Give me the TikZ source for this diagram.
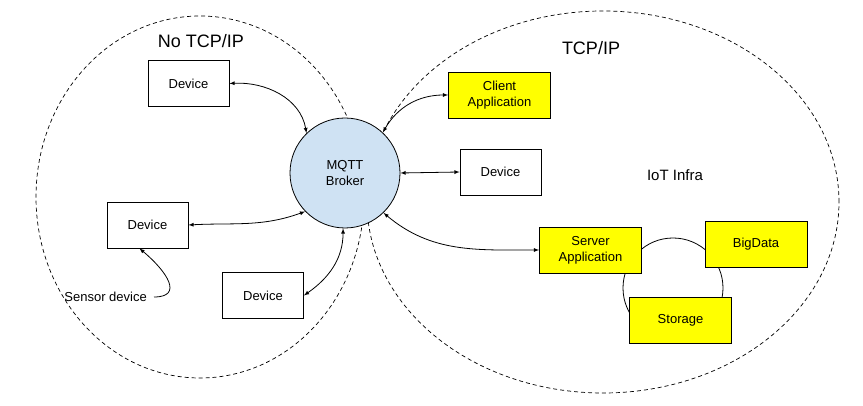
\documentclass[tikz,border=0pt]{standalone}
\usepackage{fontspec}
\setmainfont{Liberation Sans}
\usepackage{xcolor}
\usepackage{tikz}
\usetikzlibrary{shapes,arrows,positioning,calc}

\definecolor{brokerblue}{HTML}{CFE2F3}
\definecolor{appyellow}{HTML}{FFFF00}

\begin{document}
\begin{tikzpicture}[
    x=1pt, y=1pt,
    font=\fontsize{13}{16}\selectfont,
    zone/.style={ellipse, draw, dash pattern=on 4pt off 3pt, line width=0.7pt, inner sep=0pt},
    broker/.style={circle, draw, fill=brokerblue, line width=0.8pt, minimum size=110pt, inner sep=0pt, align=center},
    dev/.style={rectangle, draw, fill=white, line width=0.8pt, minimum width=81pt, minimum height=46pt, inner sep=0pt},
    app/.style={rectangle, draw, fill=appyellow, line width=0.8pt, minimum width=102pt, minimum height=46pt, inner sep=0pt, align=center},
    ring/.style={circle, draw, line width=0.8pt, minimum size=100pt, inner sep=0pt},
    flow/.style={<->, >=latex, line width=0.8pt},
    note/.style={->, >=latex, line width=0.8pt},
    title/.style={font=\fontsize{18}{20}\selectfont},
    lbl/.style={font=\fontsize{15}{18}\selectfont}
]
\useasboundingbox (0,0) rectangle (863,406);
% ----- zones -----
\node[zone, minimum width=328pt, minimum height=362pt] (notcp) at (200,209) {};
\node[zone, minimum width=472pt, minimum height=382pt] (tcp) at (603,204) {};
\node[title] (notcplab) at (201,364.5) {No TCP/IP};
\node[title] (tcplab) at (591,358) {TCP/IP};
\node[lbl] (infra) at (675,231) {IoT Infra};
% ----- broker -----
\node[broker] (mqtt) at (345,233) {MQTT\\Broker};
% ----- devices without TCP/IP -----
\node[dev] (d1) at (188.5,322.5) {Device};
\node[dev] (d3) at (147.5,181) {Device};
\node[dev] (d4) at (263,110.5) {Device};
\node[anchor=east, inner sep=0pt] (sensor) at (147,109) {Sensor device};
% ----- TCP/IP side -----
\node[app] (client) at (499.5,311) {Client\\Application};
\node[dev] (d2) at (500.5,234) {Device};
\node[ring] (store) at (673,118) {};
\node[app] (server) at (590.5,156) {Server\\Application};
\node[app] (bigdata) at (756,162) {BigData};
\node[app] (storage) at (680.5,86) {Storage};
% ----- links to broker -----
\draw[flow] (d1.east) to[out=3,in=100] (mqtt.134);
\draw[flow] (client.west) to[out=180,in=60] (mqtt.47);
\draw[flow] (mqtt.east) -- (d2.west);
\draw[flow] (d3.east) to[out=3,in=200] (mqtt.224);
\draw[flow] (d4.east) to[out=35,in=-90] (mqtt.268);
\draw[flow] (server.west) to[out=180,in=-40] (mqtt.314);
\draw[note, shorten <=7pt] (sensor.east) to[out=0,in=-40,looseness=1.9] (d3.-109);
\end{tikzpicture}
\end{document}
